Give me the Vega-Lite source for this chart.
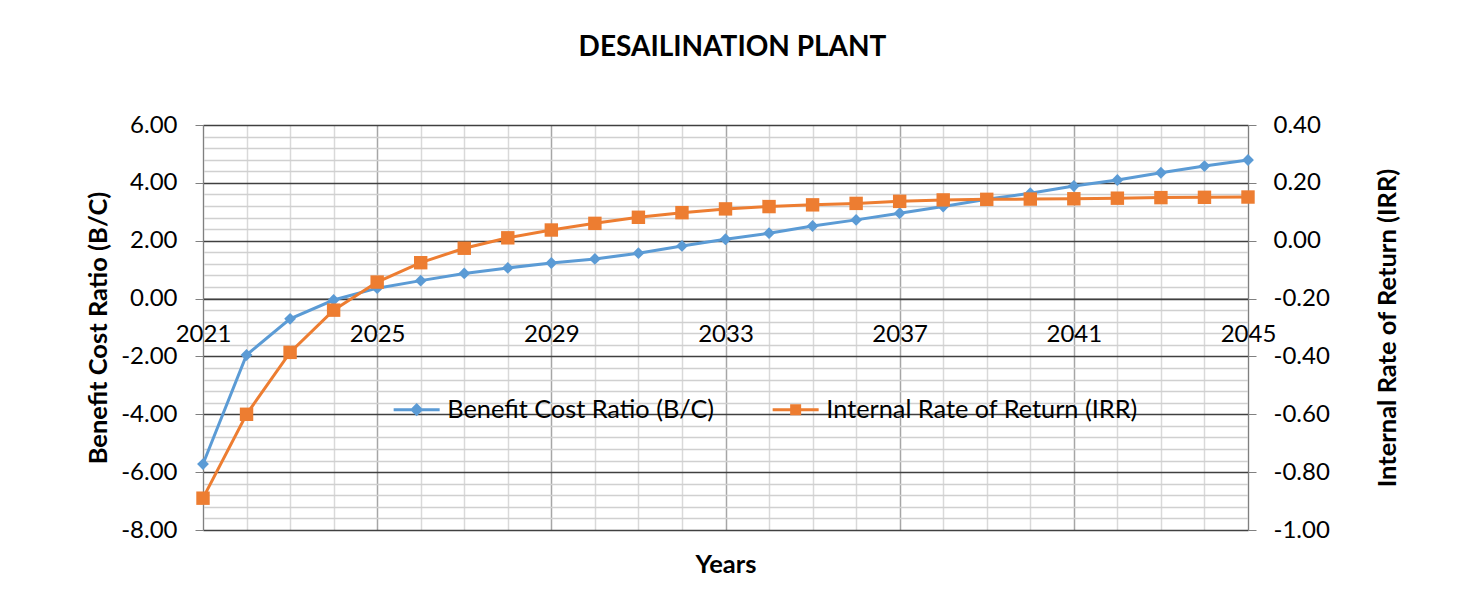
{
  "$schema": "https://vega.github.io/schema/vega-lite/v6.json",
  "autosize": "none",
  "width": 1045,
  "height": 405,
  "padding": {"left": 203, "top": 125, "right": 221, "bottom": 70},
  "background": "white",
  "title": {
    "text": "DESAILINATION PLANT",
    "font": "Lato",
    "fontSize": 28,
    "fontWeight": "bold",
    "color": "#000",
    "anchor": "middle",
    "offset": 51,
    "dx": 7
  },
  "data": {
    "values": [
      {"year": 2021, "series": "Benefit Cost Ratio (B/C)", "value": -5.72},
      {"year": 2022, "series": "Benefit Cost Ratio (B/C)", "value": -1.95},
      {"year": 2023, "series": "Benefit Cost Ratio (B/C)", "value": -0.70},
      {"year": 2024, "series": "Benefit Cost Ratio (B/C)", "value": -0.05},
      {"year": 2025, "series": "Benefit Cost Ratio (B/C)", "value": 0.36},
      {"year": 2026, "series": "Benefit Cost Ratio (B/C)", "value": 0.62},
      {"year": 2027, "series": "Benefit Cost Ratio (B/C)", "value": 0.87},
      {"year": 2028, "series": "Benefit Cost Ratio (B/C)", "value": 1.06},
      {"year": 2029, "series": "Benefit Cost Ratio (B/C)", "value": 1.23},
      {"year": 2030, "series": "Benefit Cost Ratio (B/C)", "value": 1.37},
      {"year": 2031, "series": "Benefit Cost Ratio (B/C)", "value": 1.57},
      {"year": 2032, "series": "Benefit Cost Ratio (B/C)", "value": 1.82},
      {"year": 2033, "series": "Benefit Cost Ratio (B/C)", "value": 2.05},
      {"year": 2034, "series": "Benefit Cost Ratio (B/C)", "value": 2.26},
      {"year": 2035, "series": "Benefit Cost Ratio (B/C)", "value": 2.51},
      {"year": 2036, "series": "Benefit Cost Ratio (B/C)", "value": 2.72},
      {"year": 2037, "series": "Benefit Cost Ratio (B/C)", "value": 2.95},
      {"year": 2038, "series": "Benefit Cost Ratio (B/C)", "value": 3.18},
      {"year": 2039, "series": "Benefit Cost Ratio (B/C)", "value": 3.43},
      {"year": 2040, "series": "Benefit Cost Ratio (B/C)", "value": 3.64},
      {"year": 2041, "series": "Benefit Cost Ratio (B/C)", "value": 3.89},
      {"year": 2042, "series": "Benefit Cost Ratio (B/C)", "value": 4.10},
      {"year": 2043, "series": "Benefit Cost Ratio (B/C)", "value": 4.35},
      {"year": 2044, "series": "Benefit Cost Ratio (B/C)", "value": 4.58},
      {"year": 2045, "series": "Benefit Cost Ratio (B/C)", "value": 4.79},
      {"year": 2021, "series": "Internal Rate of Return (IRR)", "value": -0.89},
      {"year": 2022, "series": "Internal Rate of Return (IRR)", "value": -0.60},
      {"year": 2023, "series": "Internal Rate of Return (IRR)", "value": -0.386},
      {"year": 2024, "series": "Internal Rate of Return (IRR)", "value": -0.24},
      {"year": 2025, "series": "Internal Rate of Return (IRR)", "value": -0.143},
      {"year": 2026, "series": "Internal Rate of Return (IRR)", "value": -0.076},
      {"year": 2027, "series": "Internal Rate of Return (IRR)", "value": -0.026},
      {"year": 2028, "series": "Internal Rate of Return (IRR)", "value": 0.01},
      {"year": 2029, "series": "Internal Rate of Return (IRR)", "value": 0.037},
      {"year": 2030, "series": "Internal Rate of Return (IRR)", "value": 0.06},
      {"year": 2031, "series": "Internal Rate of Return (IRR)", "value": 0.081},
      {"year": 2032, "series": "Internal Rate of Return (IRR)", "value": 0.097},
      {"year": 2033, "series": "Internal Rate of Return (IRR)", "value": 0.11},
      {"year": 2034, "series": "Internal Rate of Return (IRR)", "value": 0.118},
      {"year": 2035, "series": "Internal Rate of Return (IRR)", "value": 0.124},
      {"year": 2036, "series": "Internal Rate of Return (IRR)", "value": 0.129},
      {"year": 2037, "series": "Internal Rate of Return (IRR)", "value": 0.136},
      {"year": 2038, "series": "Internal Rate of Return (IRR)", "value": 0.141},
      {"year": 2039, "series": "Internal Rate of Return (IRR)", "value": 0.143},
      {"year": 2040, "series": "Internal Rate of Return (IRR)", "value": 0.144},
      {"year": 2041, "series": "Internal Rate of Return (IRR)", "value": 0.145},
      {"year": 2042, "series": "Internal Rate of Return (IRR)", "value": 0.147},
      {"year": 2043, "series": "Internal Rate of Return (IRR)", "value": 0.149},
      {"year": 2044, "series": "Internal Rate of Return (IRR)", "value": 0.150},
      {"year": 2045, "series": "Internal Rate of Return (IRR)", "value": 0.151}
    ]
  },
  "encoding": {
    "x": {
      "field": "year",
      "type": "quantitative",
      "scale": {"domain": [2021, 2045], "nice": false, "zero": false},
      "axis": {
        "title": "Years",
        "titleFontSize": 25.5,
        "titleFontWeight": "bold",
        "titleY": 266,
        "titleBaseline": "middle",
        "offset": -231.43,
        "values": [2021,2022,2023,2024,2025,2026,2027,2028,2029,2030,2031,2032,2033,2034,2035,2036,2037,2038,2039,2040,2041,2042,2043,2044,2045],
        "labelExpr": "(datum.value - 2021) % 4 == 0 ? format(datum.value, 'd') : ''",
        "labelFontSize": 24,
        "labelPadding": 24,
        "labelOverlap": false,
        "labelFlush": false,
        "tickSize": 0,
        "domain": true,
        "domainColor": "#404040",
        "grid": true,
        "gridColor": {"condition": {"test": "(datum.value - 2021) % 4 == 0", "value": "#a6a6a6"}, "value": "#d9d9d9"},
        "gridWidth": 1.5
      }
    },
    "color": {
      "field": "series",
      "type": "nominal",
      "scale": {"domain": ["Benefit Cost Ratio (B/C)", "Internal Rate of Return (IRR)"], "range": ["#5b9bd5", "#ed7d31"]},
      "legend": {
        "encode": {
          "symbols": {
            "update": {
              "shape": {"signal": "datum.label == 'Benefit Cost Ratio (B/C)' ? 'M-2.3,0H2.3M0,-0.45L0.45,0L0,0.45L-0.45,0Z' : 'M-2.3,0H2.3M-0.4,-0.4H0.4V0.4H-0.4Z'"},
              "fill": {"signal": "datum.label == 'Benefit Cost Ratio (B/C)' ? '#5b9bd5' : '#ed7d31'"},
              "stroke": {"signal": "datum.label == 'Benefit Cost Ratio (B/C)' ? '#5b9bd5' : '#ed7d31'"},
              "strokeWidth": {"value": 3},
              "opacity": {"value": 1}
            }
          }
        }
      }
    }
  },
  "layer": [
    {
      "transform": [{"filter": "datum.series == 'Benefit Cost Ratio (B/C)'"}],
      "encoding": {
        "y": {
          "field": "value",
          "type": "quantitative",
          "scale": {"domain": [-8, 6], "nice": false, "zero": false},
          "axis": {
            "orient": "left",
            "title": "Benefit Cost Ratio (B/C)",
            "titleFontSize": 25.5,
            "titleFontWeight": "bold",
            "titlePadding": 9,
            "values": [-8,-7.6,-7.2,-6.8,-6.4,-6,-5.6,-5.2,-4.8,-4.4,-4,-3.6,-3.2,-2.8,-2.4,-2,-1.6,-1.2,-0.8,-0.4,0,0.4,0.8,1.2,1.6,2,2.4,2.8,3.2,3.6,4,4.4,4.8,5.2,5.6,6],
            "labelExpr": "(abs(datum.value % 2) < 0.01 || abs(abs(datum.value % 2) - 2) < 0.01) ? (datum.value < 0 ? '-' + format(-datum.value, '.2f') : format(datum.value, '.2f')) : ''",
            "labelFontSize": 24,
            "labelPadding": 18,
            "labelOverlap": false,
            "labelFlush": false,
            "tickSize": 8,
            "tickColor": "#808080",
            "tickOpacity": {"condition": {"test": "abs(datum.value % 2) < 0.01 || abs(abs(datum.value % 2) - 2) < 0.01", "value": 1}, "value": 0},
            "domainColor": "#808080",
            "grid": true,
            "gridColor": {"condition": {"test": "abs(datum.value % 2) < 0.01 || abs(abs(datum.value % 2) - 2) < 0.01", "value": "#404040"}, "value": "#d0d0d0"},
            "gridWidth": 1.5
          }
        }
      },
      "layer": [
        {"mark": {"type": "line", "strokeWidth": 3}},
        {"mark": {"type": "point", "shape": "diamond", "filled": true, "size": 140, "opacity": 1}}
      ]
    },
    {
      "transform": [{"filter": "datum.series == 'Internal Rate of Return (IRR)'"}],
      "encoding": {
        "y": {
          "field": "value",
          "type": "quantitative",
          "scale": {"domain": [-1, 0.4], "nice": false, "zero": false},
          "axis": {
            "orient": "right",
            "title": "Internal Rate of Return (IRR)",
            "titleFontSize": 25.5,
            "titleFontWeight": "bold",
            "titleAngle": 270,
            "titlePadding": 71,
            "values": [-1,-0.8,-0.6,-0.4,-0.2,0,0.2,0.4],
            "labelExpr": "datum.value < -0.001 ? '-' + format(-datum.value, '.2f') : format(abs(datum.value), '.2f')",
            "labelFontSize": 24,
            "labelPadding": 17,
            "labelOverlap": false,
            "labelFlush": false,
            "tickSize": 8,
            "tickColor": "#808080",
            "domainColor": "#808080",
            "grid": false
          }
        }
      },
      "layer": [
        {"mark": {"type": "line", "strokeWidth": 3}},
        {"mark": {"type": "point", "shape": "square", "filled": true, "size": 180, "opacity": 1}}
      ]
    }
  ],
  "resolve": {"scale": {"y": "independent"}, "axis": {"y": "independent"}},
  "config": {
    "font": "Lato",
    "view": {"stroke": null},
    "axis": {"labelFont": "Lato", "titleFont": "Lato", "labelColor": "#000", "titleColor": "#000"},
    "legend": {
      "orient": "none",
      "legendX": 201,
      "legendY": 272,
      "direction": "horizontal",
      "title": null,
      "labelFont": "Lato",
      "labelFontSize": 25.3,
      "labelColor": "#000",
      "labelLimit": 0,
      "columnPadding": 51,
      "symbolSize": 400,
      "symbolStrokeWidth": 3,
      "labelOffset": 18
    }
  }
}
